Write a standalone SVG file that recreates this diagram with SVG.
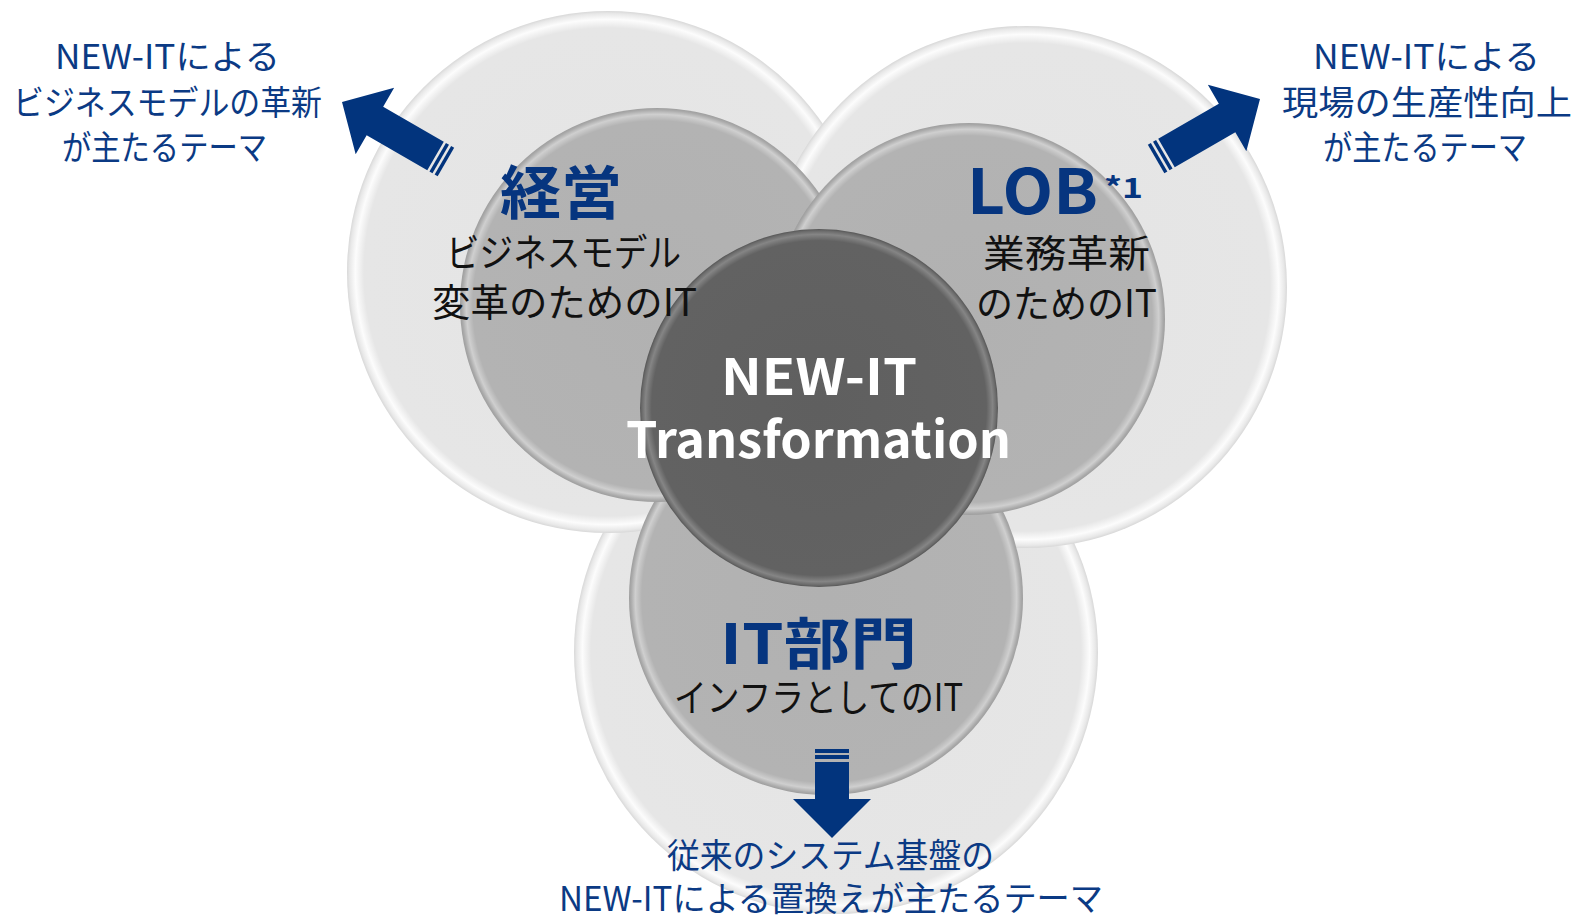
<svg xmlns="http://www.w3.org/2000/svg" width="1577" height="920" viewBox="0 0 1577 920">
<style>
.jp{font-family:"Noto Sans CJK JP","Noto Sans",sans-serif}
.blue{fill:#0b3a84}
.lbl{font-size:34px}
.black{fill:#111;font-size:38px}
.head{font-weight:bold;fill:#06357f}
.white{fill:#fff;font-weight:bold;font-size:50px}
.arr{fill:#02347d}
</style>
<defs>
<radialGradient id="gOuter" cx="50%" cy="50%" r="50%">
<stop offset="0" stop-color="#e4e4e4"/>
<stop offset="0.935" stop-color="#e6e6e6"/>
<stop offset="0.968" stop-color="#fcfcfc"/>
<stop offset="0.99" stop-color="#e8e8e8"/>
<stop offset="1" stop-color="#d8d8d8"/>
</radialGradient>
<radialGradient id="gInner" cx="50%" cy="50%" r="50%">
<stop offset="0" stop-color="#b1b1b1"/>
<stop offset="0.935" stop-color="#b3b3b3"/>
<stop offset="0.968" stop-color="#cfcfcf"/>
<stop offset="0.99" stop-color="#aaaaaa"/>
<stop offset="1" stop-color="#9e9e9e"/>
</radialGradient>
<radialGradient id="gCenter" cx="50%" cy="50%" r="50%">
<stop offset="0" stop-color="#5f5f5f"/>
<stop offset="0.935" stop-color="#626262"/>
<stop offset="0.97" stop-color="#858585"/>
<stop offset="0.99" stop-color="#6a6a6a"/>
<stop offset="1" stop-color="#555555"/>
</radialGradient>
</defs>
<rect width="1577" height="920" fill="#fff"/>

<g id="outer-circles">
<circle cx="836" cy="652" r="262" fill="url(#gOuter)"/>
<circle cx="608" cy="272" r="261" fill="url(#gOuter)"/>
<circle cx="1026" cy="287" r="261" fill="url(#gOuter)"/>
</g>

<g id="node-it">
<circle cx="826" cy="598" r="197" fill="url(#gInner)"/>
</g>
<g id="node-keiei">
<circle cx="657" cy="305" r="197" fill="url(#gInner)"/>
</g>
<g id="node-lob">
<circle cx="969" cy="319" r="196" fill="url(#gInner)"/>
</g>
<g id="node-center">
<circle cx="819" cy="408" r="179" fill="url(#gCenter)"/>
<text class="jp white" x="721" y="395" textLength="196" lengthAdjust="spacingAndGlyphs">NEW-IT</text>
<text class="jp white" x="626" y="458" textLength="385" lengthAdjust="spacingAndGlyphs">Transformation</text>
</g>

<g id="labels-keiei">
<text class="jp head" x="500" y="214" font-size="58" textLength="122" lengthAdjust="spacingAndGlyphs">経営</text>
<text class="jp black" x="446" y="266" textLength="235" lengthAdjust="spacingAndGlyphs">ビジネスモデル</text>
<text class="jp black" x="432" y="316" textLength="265" lengthAdjust="spacingAndGlyphs">変革のためのIT</text>
</g>
<g id="labels-lob">
<text class="jp head" x="967" y="214" font-size="62" textLength="131" lengthAdjust="spacingAndGlyphs">LOB</text>
<text class="jp head" x="1104" y="198" font-size="28" textLength="39" lengthAdjust="spacingAndGlyphs">*1</text>
<text class="jp black" x="983" y="267" textLength="167" lengthAdjust="spacingAndGlyphs">業務革新</text>
<text class="jp black" x="976" y="317" textLength="181" lengthAdjust="spacingAndGlyphs">のためのIT</text>
</g>
<g id="labels-it">
<text class="jp head" x="720" y="664" font-size="56" textLength="197" lengthAdjust="spacingAndGlyphs">IT部門</text>
<text class="jp black" x="674" y="711" textLength="289" lengthAdjust="spacingAndGlyphs">インフラとしてのIT</text>
</g>

<g id="connectors">
<g class="arr" transform="translate(342,102) rotate(210)">
<path d="M0,0 L-38,-38.5 L-38,-16.5 L-108,-16.5 L-108,16.5 L-38,16.5 L-38,38.5 Z"/>
<rect x="-114" y="-16.5" width="3.5" height="33"/>
<rect x="-120" y="-16.5" width="3.5" height="33"/>
</g>
<g class="arr" transform="translate(1260,99) rotate(-30)">
<path d="M0,0 L-38,-38.5 L-38,-16.5 L-108,-16.5 L-108,16.5 L-38,16.5 L-38,38.5 Z"/>
<rect x="-114" y="-16.5" width="3.5" height="33"/>
<rect x="-120" y="-16.5" width="3.5" height="33"/>
</g>
<g class="arr" transform="translate(832,838) rotate(90)">
<path d="M0,0 L-39,-39 L-39,-17 L-76,-17 L-76,17 L-39,17 L-39,39 Z"/>
<rect x="-83" y="-17" width="4" height="34"/>
<rect x="-89" y="-17" width="4" height="34"/>
</g>
</g>

<g id="text-topleft">
<text class="jp blue lbl" x="55" y="69" textLength="225" lengthAdjust="spacingAndGlyphs">NEW-ITによる</text>
<text class="jp blue lbl" x="13" y="115" textLength="309" lengthAdjust="spacingAndGlyphs">ビジネスモデルの革新</text>
<text class="jp blue lbl" x="62" y="160" textLength="205" lengthAdjust="spacingAndGlyphs">が主たるテーマ</text>
</g>
<g id="text-topright">
<text class="jp blue lbl" x="1313" y="69" textLength="227" lengthAdjust="spacingAndGlyphs">NEW-ITによる</text>
<text class="jp blue lbl" x="1282" y="115" textLength="290" lengthAdjust="spacingAndGlyphs">現場の生産性向上</text>
<text class="jp blue lbl" x="1323" y="160" textLength="204" lengthAdjust="spacingAndGlyphs">が主たるテーマ</text>
</g>
<g id="text-bottom">
<text class="jp blue lbl" x="667" y="868" textLength="327" lengthAdjust="spacingAndGlyphs">従来のシステム基盤の</text>
<text class="jp blue lbl" x="559" y="911" textLength="544" lengthAdjust="spacingAndGlyphs">NEW-ITによる置換えが主たるテーマ</text>
</g>
</svg>
